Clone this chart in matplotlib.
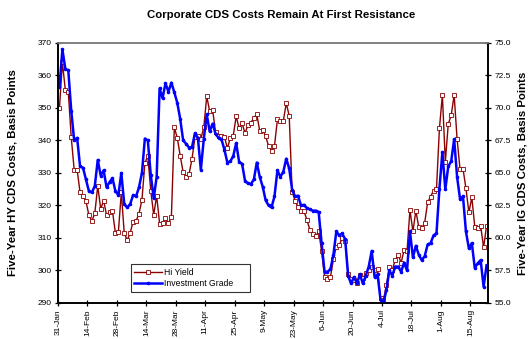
import numpy as np
import pandas as pd
import matplotlib
matplotlib.use("Agg")
import matplotlib.pyplot as plt
from matplotlib.ticker import FormatStrFormatter

plt.rcParams['font.family'] = ['Liberation Sans', 'DejaVu Sans']

# one value per business day, 31-Jan through 22-Aug
start_date = "2005-01-31"

hi_yield = [
    350, 364, 355.5, 355, 341, 331, 331, 324, 323, 321.3,
    317, 315.2, 317.6, 326, 319, 321.5, 317, 318, 318.3, 311.5,
    311.8, 324, 311.4, 309.4, 311.5, 315, 315.2, 317.5, 321.7, 333,
    335.3, 324.5, 317.1, 323, 314.4, 314.6, 316, 314.6, 316.4, 344,
    340.8, 335.3, 330.2, 328.9, 329.7, 334.3, 341, 341.4, 340.5, 344,
    353.6, 349, 349.4, 342.5, 341.5, 341.3, 341.2, 337.6, 340.7, 341.5,
    347.4, 343.8, 345.3, 342.2, 344.8, 345.5, 347, 348, 342.9, 343.2,
    341.3, 338.3, 336.9, 338.3, 346.5, 346, 346, 351.5, 347.6, 324.3,
    321.4, 319.5, 318.3, 318.3, 315.6, 312.6, 311.3, 310.6, 312, 306,
    298, 297.5, 298, 303.4, 307.3, 307.8, 310, 309, 299, 297.5,
    297, 296, 298.6, 297.6, 299.1, 300.2, 301.2, 300.2, 300.5, 291.4,
    291, 295.5, 301.2, 300.2, 303.2, 304.8, 302.4, 306.3, 306, 318.6,
    312, 318.4, 313.3, 313, 314.7, 321, 322.7, 324.6, 325, 343.7,
    354, 333.5, 345, 347.8, 354, 340.4, 331.1, 331.3, 325.3, 317.9,
    322.5, 313.5, 313.2, 313.7, 307.1, 313.7,
]

inv_grade = [
    71.6, 74.5, 73.0, 72.9, 69.8, 67.5, 67.7, 65.5, 65.4, 64.5,
    63.6, 63.5, 64.0, 66.0, 64.8, 65.2, 63.9, 64.3, 64.6, 63.6,
    63.3, 65.0, 62.6, 62.35, 62.6, 63.3, 63.2, 63.9, 65.0, 67.65,
    67.5, 64.85, 63.05, 64.7, 71.5, 70.75, 71.9, 71.25, 71.95, 71.2,
    70.4, 69.15, 67.5, 67.25, 66.95, 67.0, 68.05, 67.7, 65.25, 67.6,
    69.5, 68.2, 68.8, 68.0, 67.7, 67.6, 66.8, 65.8, 65.9, 66.3,
    67.3, 65.85, 65.7, 64.4, 64.2, 64.15, 64.5, 65.8, 64.7, 63.95,
    62.9, 62.5, 62.35, 63.2, 65.2, 64.7, 65.1, 66.1, 65.35, 63.7,
    63.2, 63.25, 62.5, 62.55, 62.3, 62.2, 62.1, 62.1, 62.0, 59.6,
    57.4, 57.4, 57.6, 58.7, 60.5, 60.2, 60.35, 59.9, 57.1, 56.5,
    57.0, 56.5, 57.2, 56.5, 57.1, 57.8, 59.0, 57.0, 57.2, 55.25,
    55.0, 56.0, 57.5, 57.1, 57.8, 57.8, 57.4, 58.1, 57.5, 60.5,
    58.5, 59.4, 58.7, 58.3, 58.6, 59.5, 59.6, 60.2, 60.35, 63.8,
    66.6, 63.75, 65.5, 65.9, 67.6, 64.7, 63.0, 63.2, 60.5, 59.2,
    59.6, 57.7, 58.05, 58.3, 56.25, 57.9,
]

n = len(hi_yield)
dates = pd.bdate_range(start=start_date, periods=n)
x = np.arange(n) + 0.5

fig = plt.figure(figsize=(5.3, 3.39), dpi=100)
ax = fig.add_axes([0.1094, 0.1062, 0.8114, 0.767])
ax2 = ax.twinx()

l1, = ax.plot(x, hi_yield, color='#8b0000', lw=1.0, marker='s', ms=2.3,
              mfc='white', mec='#8b0000', mew=0.6, label='Hi Yield')
l2, = ax2.plot(x, inv_grade, color='#0000ff', lw=1.8, marker='o', ms=1.6,
               mfc='#0000ff', mec='#0000ff', label='Investment Grade')

ax.set_xlim(0, n)
ax.set_ylim(290, 370)
ax2.set_ylim(55, 75)
ax.set_yticks(np.arange(290, 371, 10))
ax2.set_yticks(np.arange(55, 75.1, 2.5))
ax2.yaxis.set_major_formatter(FormatStrFormatter('%.1f'))

tick_pos = np.arange(0, n, 10)
ax.set_xticks(tick_pos)
ax.set_xticklabels([f"{dates[i].day}-{dates[i].strftime('%b')}" for i in tick_pos],
                   rotation=90)

for a in (ax, ax2):
    a.tick_params(direction='inout', length=5, width=0.9, labelsize=6,
                  colors='black', pad=2)
    a.spines['top'].set_color('#808080')
    a.spines['top'].set_linewidth(1.2)
    for s in ('left', 'right', 'bottom'):
        a.spines[s].set_linewidth(1.2)

ax.set_ylabel('Five-Year HY CDS Costs, Basis Points', fontsize=8.2,
              fontweight='bold')
ax2.set_ylabel('Five-Year IG CDS Costs, Basis Points', fontsize=8.2,
               fontweight='bold')
ax.yaxis.set_label_coords(-0.093, 0.5)
ax2.yaxis.set_label_coords(1.068, 0.5)
fig.suptitle('Corporate CDS Costs Remain At First Resistance', fontsize=8.2,
             fontweight='bold', x=0.53, y=0.97)

leg = fig.legend(handles=[l1, l2], loc='lower left', mode='expand',
                 bbox_to_anchor=(0.247, 0.139, 0.225, 0.083), borderaxespad=0,
                 fontsize=6.2, frameon=True, fancybox=False, edgecolor='black',
                 borderpad=0.4, labelspacing=0.3, handlelength=3.2,
                 handletextpad=0.3)
leg.get_frame().set_linewidth(0.8)

fig.savefig('out.png', dpi=100)
